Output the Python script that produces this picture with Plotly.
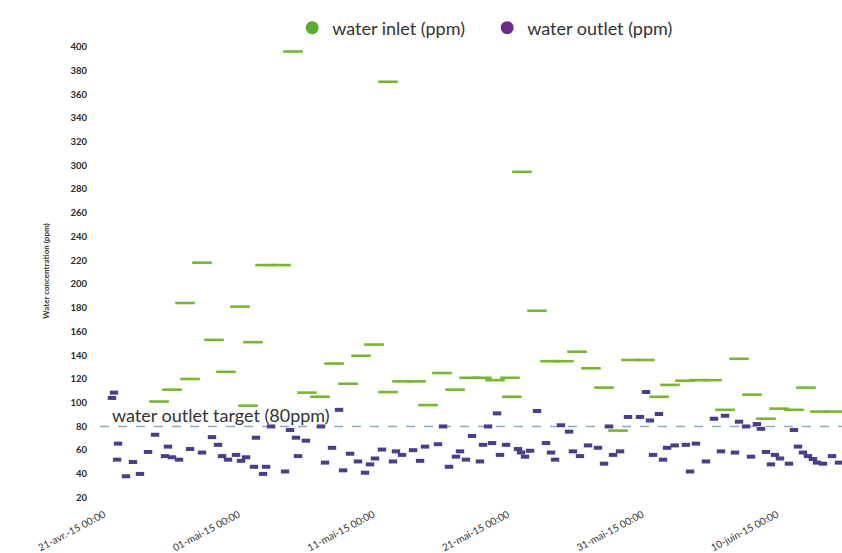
import pandas as pd
import plotly.graph_objects as go

# Sampling times are stored as day offsets from the first axis tick
start = pd.Timestamp("2015-04-21")

inlet_day = [4.09, 5.05, 6.02, 6.39, 7.28, 8.17, 9.06, 10.10, 10.70, 11.07,
             11.96, 13.15, 14.04, 15.08, 16.05, 17.09, 18.13, 19.09, 20.06,
             21.10, 21.10, 22.14, 23.18, 24.07, 25.11, 26.08, 27.12, 28.08,
             29.05, 30.16, 30.30, 31.05, 32.17, 33.14, 34.18, 35.14, 36.18,
             37.15, 38.19, 39.15, 40.19, 41.23, 42.05, 43.16, 44.20, 45.17,
             46.14, 47.18, 48.14, 49.18, 50.15, 51.26, 52.15, 53.19, 54.23]
inlet_ppm = [101, 111, 184, 120, 218, 153, 126, 181, 97.5, 151,
             216, 216, 396, 108.5, 105, 133, 116, 139.6, 149,
             370.5, 109, 118, 118, 98, 125, 111, 121, 121,
             119, 121, 105, 294.6, 177.5, 135, 135, 143, 129,
             112.7, 76.5, 136, 136, 105, 115, 118.5, 119, 119,
             94, 137, 106.8, 86.5, 95, 94, 112.7, 92.5, 92.5]

outlet_day = [0.59, 0.74, 0.97, 1.04, 1.63, 2.15, 2.67, 3.27, 3.79, 4.53,
              4.75, 5.05, 5.57, 6.39, 7.28, 8.02, 8.47, 8.77, 9.21, 9.81,
              10.18, 10.55, 11.14, 11.29, 11.81, 12.04, 12.41, 13.45, 13.82,
              14.26, 14.41, 15.00, 16.12, 16.42, 16.94, 17.46, 17.76, 18.28,
              18.87, 19.39, 19.76, 20.13, 20.65, 21.47, 21.69, 22.14, 22.96,
              23.48, 23.85, 24.81, 25.19, 25.63, 26.15, 26.45, 26.89, 27.34,
              27.93, 28.16, 28.53, 28.83, 29.20, 29.42, 29.87, 30.76, 30.98,
              31.28, 31.65, 32.17, 32.84, 33.21, 33.51, 33.95, 34.55, 34.84,
              35.36, 35.96, 36.70, 37.15, 37.52, 37.82, 38.34, 38.93, 39.82,
              40.27, 40.56, 40.79, 41.23, 41.53, 41.83, 42.40, 43.23, 43.54,
              43.98, 44.72, 45.32, 45.84, 46.14, 46.88, 47.18, 47.70, 48.07,
              48.51, 48.81, 49.18, 49.55, 49.85, 50.22, 50.89, 51.26, 51.56,
              51.93, 52.30, 52.67, 52.97, 53.42, 54.09, 54.61]
outlet_ppm = [104, 108.5, 52, 65.5, 38, 50, 40, 58.5, 73, 55,
              63, 54, 52, 61, 58, 71, 64.5, 55, 52, 56,
              51, 54, 46, 70.5, 40, 46, 80, 42, 77,
              70.5, 55, 68, 80, 49.5, 62, 94, 43, 57,
              50.5, 41, 48, 53, 60.5, 50.5, 59, 56, 60,
              51, 63, 65, 80, 46, 54.5, 59, 52, 72,
              50.5, 64.5, 80, 66, 91, 56, 64.5, 61, 58,
              54.5, 59.5, 93, 66, 58, 52, 81, 75.6, 59,
              55, 64, 62, 48.6, 80, 56, 59, 88, 88,
              109, 85, 56, 90.5, 52, 62, 64, 64.5, 42,
              65.5, 50.5, 86.5, 59, 89, 58, 84, 80, 54.5,
              82, 78, 58.5, 48, 56, 53, 48.6, 77, 63,
              58, 55, 52.5, 49.5, 48.6, 55, 49.5]

tick_day = [0, 10, 20, 30, 40, 50]
tick_text = ["21-avr.-15 00:00", "01-mai-15 00:00", "11-mai-15 00:00",
             "21-mai-15 00:00", "31-mai-15 00:00", "10-juin-15 00:00"]
y_ticks = list(range(20, 401, 20))
target_ppm = 80

FONT = "Lato"
INLET = "#78b72c"
OUTLET = "#4a3d8f"


def to_time(days):
    return start + pd.to_timedelta(days, unit="D")


fig = go.Figure()

fig.add_trace(go.Scatter(
    x=to_time(inlet_day), y=inlet_ppm, mode="markers", showlegend=False,
    marker=dict(symbol="line-ew", size=14, line=dict(width=2.6, color=INLET)),
))
fig.add_trace(go.Scatter(
    x=to_time(outlet_day), y=outlet_ppm, mode="markers", showlegend=False,
    marker=dict(symbol="line-ew", size=6, line=dict(width=4, color=OUTLET)),
))

# legend entries drawn as round swatches
fig.add_trace(go.Scatter(
    x=[None], y=[None], mode="markers", name="water inlet (ppm)",
    marker=dict(symbol="circle", size=13, color="#5aad2e"),
))
fig.add_trace(go.Scatter(
    x=[None], y=[None], mode="markers", name="water outlet (ppm)",
    marker=dict(symbol="circle", size=13, color="#6c2a8a"),
))

fig.add_hline(y=target_ppm, line=dict(color="#8fa8c8", width=1.5, dash="dash"),
              layer="below")
fig.add_annotation(
    x=to_time(0.45), y=target_ppm, xref="x", yref="y",
    text="water outlet target (80ppm)", showarrow=False,
    xanchor="left", yanchor="bottom", yshift=-2,
    font=dict(family=FONT, size=18, color="#333333"),
)

fig.update_layout(
    width=842, height=553,
    margin=dict(l=100, r=0, t=42, b=53),
    paper_bgcolor="white", plot_bgcolor="white",
    font=dict(family=FONT, color="#333333"),
    legend=dict(
        orientation="h", x=0.259, xanchor="left", y=1.0306, yanchor="middle",
        font=dict(family=FONT, size=18, color="#333333"),
        itemsizing="trace", bgcolor="rgba(0,0,0,0)",
        entrywidth=150, entrywidthmode="pixels",
    ),
    xaxis=dict(
        type="date",
        range=[to_time(-0.3), to_time(54.83)],
        tickvals=to_time(tick_day), ticktext=tick_text,
        tickangle=-28, tickfont=dict(family=FONT, size=10, color="#333333"),
        showgrid=False, showline=False, zeroline=False, ticks="",
        ticklabelstandoff=6,
    ),
    yaxis=dict(
        range=[18, 404], tickvals=y_ticks,
        tickfont=dict(family=FONT, size=9.5, color="#2a2a2a", weight="bold"),
        showgrid=False, showline=False, zeroline=False, ticks="",
        ticklabelstandoff=12,
        title=dict(text="Water concentration (ppm)", standoff=19,
                   font=dict(family=FONT, size=8, color="#333333", weight="bold")),
    ),
)

fig.write_html("out.html")
